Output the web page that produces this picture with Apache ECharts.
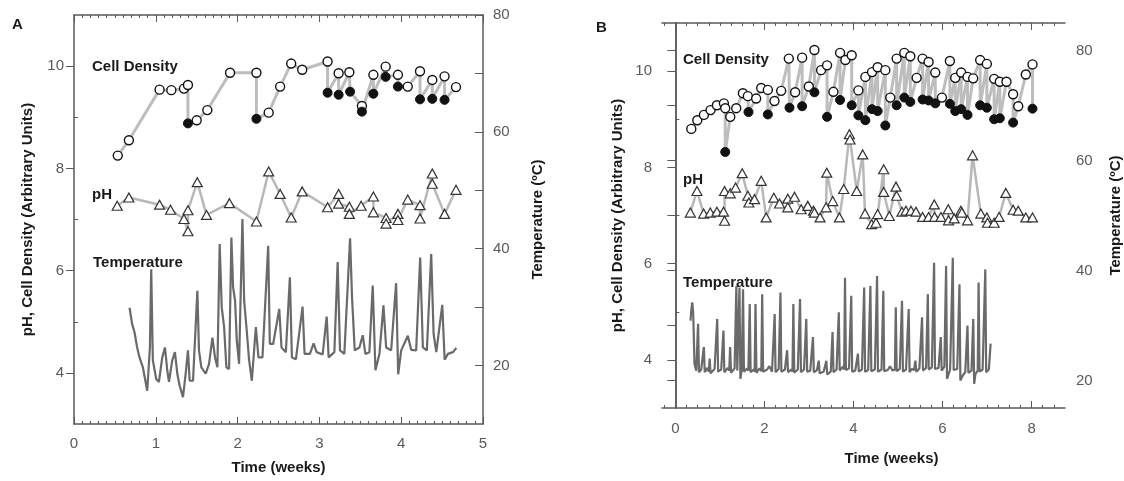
<!DOCTYPE html>
<html>
<head>
<meta charset="utf-8">
<script src="https://cdn.jsdelivr.net/npm/echarts@6/dist/echarts.min.js"></script>
<style>
html,body{margin:0;padding:0;background:#fff;}
#chart{width:1124px;height:481px;}
</style>
</head>
<body>
<div id="chart"></div>
<script>
// ---------- Panel A data ----------
const cellA_t = [0.535,0.671,1.046,1.19,1.344,1.393,1.393,1.50,1.63,1.908,2.23,2.23,2.38,2.52,2.655,2.79,3.10,3.10,3.235,3.235,3.366,3.375,3.52,3.52,3.66,3.66,3.81,3.81,3.96,3.96,4.08,4.23,4.23,4.38,4.38,4.53,4.53,4.67];
const cellA_v = [8.25,8.55,9.54,9.53,9.56,9.63,8.88,8.94,9.14,9.87,9.87,8.97,9.09,9.60,10.05,9.93,10.09,9.48,9.86,9.44,9.88,9.50,9.22,9.11,9.83,9.46,9.99,9.79,9.83,9.60,9.60,9.90,9.35,9.73,9.36,9.80,9.34,9.59];
const cellA_filled = [0,0,0,0,0,0,1,0,0,0,0,1,0,0,0,0,0,1,0,1,0,1,0,1,0,1,0,1,0,1,0,0,1,0,1,0,1,0];

const phA_t = [0.528,0.671,1.046,1.18,1.344,1.393,1.393,1.507,1.62,1.90,2.23,2.38,2.52,2.655,2.79,3.10,3.235,3.235,3.366,3.366,3.51,3.66,3.66,3.815,3.815,3.96,3.96,4.08,4.23,4.23,4.38,4.38,4.53,4.67];
const phA_v = [7.27,7.43,7.29,7.19,7.01,6.77,7.18,7.73,7.09,7.32,6.96,7.94,7.50,7.04,7.55,7.24,7.50,7.31,7.25,7.11,7.27,7.45,7.14,7.03,6.92,7.11,6.99,7.39,7.28,7.02,7.90,7.70,7.11,7.58];

const tempA_t = [0.679,0.711,0.740,0.772,0.801,0.842,0.895,0.928,0.944,0.964,1.005,1.038,1.079,1.112,1.140,1.161,1.201,1.234,1.263,1.291,1.332,1.365,1.393,1.414,1.455,1.508,1.528,1.557,1.610,1.651,1.692,1.724,1.753,1.781,1.806,1.835,1.863,1.896,1.924,1.945,1.969,1.990,2.018,2.059,2.080,2.108,2.141,2.174,2.223,2.255,2.304,2.374,2.394,2.435,2.509,2.537,2.590,2.639,2.664,2.713,2.794,2.819,2.884,2.929,2.966,3.040,3.089,3.113,3.183,3.223,3.252,3.305,3.375,3.399,3.432,3.489,3.530,3.562,3.611,3.652,3.685,3.734,3.783,3.816,3.877,3.938,3.963,4.000,4.081,4.122,4.183,4.232,4.265,4.314,4.367,4.396,4.429,4.502,4.531,4.571,4.633,4.674];
const tempA_v = [29.9,27.1,25.7,23.1,21.4,19.7,15.7,23.1,36.5,20.9,17.7,17.2,21.4,23.1,19.2,17.2,20.9,22.3,18.6,16.6,14.6,18.6,22.6,17.4,17.4,32.8,22.6,19.7,18.6,20.3,24.8,21.4,19.7,40.8,30.0,26.6,19.7,19.4,41.9,33.4,31.1,24.3,20.3,45.1,31.1,26.6,20.9,17.4,26.6,21.4,21.4,40.5,23.7,23.7,29.7,23.1,22.3,35.1,21.4,21.1,30.1,22.0,22.0,23.8,22.3,21.9,28.4,21.4,22.3,37.7,22.6,22.0,41.8,31.7,22.6,23.1,25.2,22.0,22.3,33.7,19.2,22.0,30.3,23.1,22.6,34.1,18.5,22.6,25.1,22.7,22.6,38.5,23.1,22.6,39.1,25.4,22.3,30.4,21.0,22.0,22.3,23.0];

// ---------- Panel B data ----------
const cellB_t = [0.358,0.493,0.642,0.791,0.933,1.090,1.120,1.120,1.233,1.367,1.516,1.628,1.643,1.815,1.928,2.077,2.077,2.226,2.376,2.548,2.563,2.690,2.847,2.847,2.996,3.123,3.123,3.273,3.407,3.407,3.549,3.699,3.699,3.818,3.960,3.960,4.110,4.110,4.267,4.267,4.416,4.416,4.543,4.543,4.715,4.715,4.827,4.969,4.969,5.141,5.141,5.276,5.276,5.418,5.552,5.552,5.687,5.687,5.836,5.836,5.986,6.165,6.165,6.285,6.285,6.419,6.419,6.561,6.561,6.688,6.845,6.845,6.995,6.995,7.159,7.159,7.286,7.286,7.436,7.585,7.585,7.70,7.87,8.02,8.02];
const cellB_v = [8.80,8.98,9.09,9.19,9.29,9.33,9.23,8.32,9.05,9.23,9.54,9.48,9.15,9.43,9.65,9.61,9.10,9.38,9.59,10.26,9.24,9.56,10.28,9.27,9.68,10.44,9.56,10.02,10.12,9.05,9.57,10.38,9.40,10.23,10.33,9.29,9.60,9.08,9.88,8.98,9.98,9.21,10.08,9.17,10.02,8.87,9.45,10.26,9.29,10.38,9.45,10.31,9.36,9.86,10.26,9.41,10.19,9.39,9.97,9.33,9.45,10.21,9.32,9.86,9.17,9.97,9.21,9.88,9.09,9.85,10.23,9.29,10.15,9.24,9.84,9.00,9.78,9.02,9.78,9.52,8.93,9.27,9.93,10.14,9.22];
const cellB_filled = [0,0,0,0,0,0,0,1,0,0,0,0,1,0,0,0,1,0,0,0,1,0,0,1,0,0,1,0,0,1,0,0,1,0,0,1,0,1,0,1,0,1,0,1,0,1,0,0,1,0,1,0,1,0,0,1,0,1,0,1,0,0,1,0,1,0,1,0,1,0,0,1,0,1,0,1,0,1,0,0,1,0,0,0,1];

const phB_t = [0.336,0.485,0.635,0.784,0.933,1.082,1.105,1.105,1.233,1.352,1.501,1.628,1.651,1.778,1.928,2.039,2.211,2.339,2.525,2.525,2.675,2.825,2.974,3.101,3.123,3.25,3.385,3.400,3.534,3.684,3.781,3.908,3.923,4.073,4.207,4.259,4.409,4.506,4.543,4.678,4.678,4.805,4.954,4.969,5.089,5.178,5.291,5.403,5.552,5.687,5.814,5.821,5.964,6.128,6.135,6.262,6.412,6.434,6.561,6.674,6.860,6.995,7.010,7.159,7.271,7.421,7.585,7.70,7.87,8.02];
const phB_v = [7.06,7.51,7.04,7.06,7.08,7.08,6.89,7.51,7.46,7.58,7.88,7.41,7.27,7.34,7.72,6.96,7.37,7.25,7.35,7.17,7.39,7.13,7.20,7.10,7.06,6.96,7.17,7.89,7.30,6.96,7.55,8.69,8.58,7.51,8.27,7.04,6.82,6.85,7.03,7.96,7.49,6.99,7.60,7.41,7.08,7.10,7.10,7.08,6.97,6.97,7.23,6.97,6.97,7.13,6.90,6.94,7.10,7.06,6.90,8.25,7.04,6.96,6.85,6.85,6.97,7.47,7.12,7.10,6.96,6.96];

const tempB_t = [0.34,0.36,0.38,0.40,0.43,0.47,0.49,0.51,0.53,0.58,0.62,0.64,0.66,0.72,0.75,0.77,0.79,0.88,0.92,0.94,0.96,1.03,1.06,1.08,1.10,1.18,1.21,1.23,1.25,1.33,1.35,1.37,1.39,1.42,1.44,1.46,1.49,1.52,1.54,1.61,1.64,1.67,1.69,1.76,1.78,1.80,1.82,1.89,1.93,1.95,1.97,2.06,2.11,2.17,2.20,2.23,2.25,2.32,2.34,2.36,2.38,2.46,2.49,2.51,2.53,2.60,2.63,2.65,2.67,2.75,2.78,2.80,2.82,2.89,2.92,2.94,2.96,3.03,3.07,3.09,3.11,3.18,3.20,3.22,3.24,3.33,3.36,3.39,3.41,3.49,3.51,3.53,3.55,3.62,3.65,3.67,3.69,3.76,3.79,3.81,3.83,3.90,3.93,3.95,3.97,4.04,4.07,4.10,4.12,4.19,4.22,4.24,4.26,4.33,4.36,4.38,4.40,4.48,4.51,4.53,4.55,4.63,4.65,4.67,4.69,4.77,4.82,4.88,4.93,4.95,4.97,5.04,5.07,5.09,5.11,5.18,5.22,5.24,5.26,5.31,5.36,5.39,5.41,5.48,5.52,5.54,5.56,5.63,5.65,5.67,5.69,5.76,5.79,5.81,5.83,5.91,5.94,5.96,5.98,6.04,6.06,6.08,6.10,6.17,6.21,6.23,6.25,6.33,6.36,6.38,6.40,6.46,6.51,6.54,6.56,6.58,6.65,6.67,6.69,6.71,6.74,6.79,6.81,6.83,6.90,6.94,6.96,6.98,7.04,7.08];
const tempB_v = [30.9,33.0,34.2,32.4,23.0,21.8,22.1,30.3,21.5,22.0,21.7,26.1,21.5,22.3,21.6,24.0,21.3,22.1,21.8,31.2,21.6,22.0,21.7,29.1,21.5,22.3,21.8,26.1,21.4,22.2,22.0,37.2,21.8,22.1,36.9,20.3,21.9,36.6,21.6,22.2,21.8,33.9,21.5,22.0,21.6,33.9,21.4,22.2,21.7,35.7,21.6,22.0,22.6,21.6,21.9,32.1,21.5,22.1,21.8,36.0,21.6,22.0,21.7,25.5,21.5,22.0,21.6,33.9,21.4,22.0,21.7,34.8,21.5,22.0,21.8,31.2,21.6,21.8,21.5,27.9,21.5,21.9,21.6,23.6,21.3,21.6,21.4,23.6,21.1,21.6,21.8,28.8,21.5,22.0,21.9,32.4,21.8,22.5,22.0,38.7,21.9,22.2,22.0,35.4,21.6,21.8,21.7,24.9,21.6,22.0,21.8,36.9,21.6,21.9,21.8,37.2,21.7,22.0,21.9,39.0,21.6,22.0,21.8,36.3,21.7,21.9,22.6,21.8,22.0,33.3,21.7,22.1,21.9,34.5,21.6,22.0,21.8,33.0,21.5,22.1,21.9,23.6,21.6,22.2,21.9,31.5,21.8,22.3,22.1,35.7,22.0,22.4,22.2,41.4,22.1,22.3,22.0,27.9,21.8,22.5,22.2,40.8,20.3,22.0,21.8,42.3,21.9,22.1,21.8,37.5,20.0,21.0,21.5,21.7,30.0,21.4,21.8,21.6,31.2,19.4,21.2,21.8,37.8,21.6,22.0,21.8,40.2,21.5,22.0,26.7];

// ---------- Axis tick labels ----------
const xTicksA = [0,1,2,3,4,5];
const xTicksB = [0,2,4,6,8];
const leftTicks = [4,6,8,10];
const leftMinor = [5,7,9];
const rightLabels = [20,40,60,80];
const rightTicks = [20,30,40,50,60,70,80];

// ---------- build ----------
const FONT = '"Liberation Sans", Arial, Helvetica, sans-serif';
const AX = '#5a5a5a';
const zip = (t, v) => t.map((x, i) => [x, v[i]]);
const pick = (t, v, f, want) => t.map((x, i) => [x, v[i], f[i]]).filter(d => d[2] === want).map(d => [d[0], d[1]]);

const xMinorB = [];
for (let k = -1; k <= 35; k++) { const v = k * 0.25; if (v > -0.3 && v < 8.75 && k % 8 !== 0) xMinorB.push(v); }

function axisName(txt, gap, extra) {
  return Object.assign({ name: txt, nameLocation: 'middle', nameGap: gap,
    nameTextStyle: { fontFamily: FONT, fontWeight: 'bold', fontSize: 15, color: '#1a1a1a' } }, extra || {});
}
const lineStyle = { color: AX, width: 1.5 };
const lbl = (margin, extra) => Object.assign({ color: AX, fontSize: 15, fontFamily: FONT, margin: margin }, extra || {});

const option = {
  animation: false,
  backgroundColor: '#fff',
  grid: [
    { left: 74, top: 15, width: 409, height: 409 },
    { left: 662, top: 23, width: 404, height: 385 }
  ],
  xAxis: [
    Object.assign({ gridIndex: 0, type: 'value', min: 0, max: 5, interval: 1, position: 'bottom',
      axisLine: { lineStyle }, axisTick: { inside: true, length: 7, lineStyle: { color: AX } },
      minorTick: { show: true, splitNumber: 10, length: 3, lineStyle: { color: AX } },
      axisLabel: lbl(12, { customValues: xTicksA }), splitLine: { show: false } }, axisName('Time (weeks)', 36)),
    { gridIndex: 0, type: 'value', min: 0, max: 5, interval: 1, position: 'top',
      axisLine: { lineStyle }, axisTick: { inside: true, length: 7, lineStyle: { color: AX } },
      minorTick: { show: true, splitNumber: 10, length: 3, lineStyle: { color: AX } },
      axisLabel: { show: false }, splitLine: { show: false } },
    Object.assign({ gridIndex: 1, type: 'value', min: -0.3, max: 8.75, position: 'bottom',
      axisLine: { lineStyle }, axisTick: { inside: true, length: 7, customValues: xTicksB, lineStyle: { color: AX } },
      axisLabel: lbl(13, { customValues: xTicksB }), splitLine: { show: false } },
      axisName('Time (weeks)', 43, { nameTextStyle: { fontFamily: FONT, fontWeight: 'bold', fontSize: 15, color: '#1a1a1a', padding: [0, 0, 0, 56] } })),
    { gridIndex: 1, type: 'value', min: -0.3, max: 8.75, position: 'top',
      axisLine: { lineStyle }, axisTick: { inside: true, length: 7, customValues: xTicksB, lineStyle: { color: AX } },
      axisLabel: { show: false }, splitLine: { show: false } },
    { gridIndex: 1, type: 'value', min: -0.3, max: 8.75, position: 'bottom',
      axisLine: { show: false }, axisTick: { inside: true, length: 3, customValues: xMinorB, lineStyle: { color: AX } },
      axisLabel: { show: false }, splitLine: { show: false } },
    { gridIndex: 1, type: 'value', min: -0.3, max: 8.75, position: 'top',
      axisLine: { show: false }, axisTick: { inside: true, length: 3, customValues: xMinorB, lineStyle: { color: AX } },
      axisLabel: { show: false }, splitLine: { show: false } }
  ],
  yAxis: [
    Object.assign({ gridIndex: 0, type: 'value', min: 3, max: 11, position: 'left',
      axisLine: { show: true, lineStyle }, axisTick: { show: true, inside: false, length: 8, customValues: leftTicks, lineStyle: { color: AX } },
      axisLabel: lbl(10, { customValues: leftTicks }), splitLine: { show: false } }, axisName('pH, Cell Density (Arbitrary Units)', 39)),
    { gridIndex: 0, type: 'value', min: 3, max: 11, position: 'left',
      axisLine: { show: false }, axisTick: { show: true, inside: true, length: 4, customValues: leftMinor, lineStyle: { color: AX } },
      axisLabel: { show: false }, splitLine: { show: false } },
    Object.assign({ gridIndex: 0, type: 'value', min: 10, max: 80, position: 'right',
      axisLine: { show: true, lineStyle }, axisTick: { show: true, inside: true, length: 8, customValues: rightTicks, lineStyle: { color: AX } },
      axisLabel: lbl(10, { customValues: rightLabels }), splitLine: { show: false } }, axisName('Temperature (ºC)', 47, { nameRotate: 90 })),
    Object.assign({ gridIndex: 1, type: 'value', min: 3, max: 11, position: 'left',
      axisLine: { show: true, lineStyle }, axisTick: { show: true, inside: false, length: 8, customValues: leftTicks, lineStyle: { color: AX } },
      axisLabel: lbl(10, { customValues: leftTicks }), splitLine: { show: false } }, axisName('pH, Cell Density (Arbitrary Units)', 37)),
    { gridIndex: 1, type: 'value', min: 3, max: 11, position: 'left',
      axisLine: { show: false }, axisTick: { show: true, inside: true, length: 4, customValues: leftMinor, lineStyle: { color: AX } },
      axisLabel: { show: false }, splitLine: { show: false } },
    Object.assign({ gridIndex: 1, type: 'value', min: 15, max: 85, position: 'right',
      axisLine: { show: true, lineStyle }, axisTick: { show: true, inside: true, length: 8, customValues: rightTicks, lineStyle: { color: AX } },
      axisLabel: lbl(11, { customValues: rightLabels }), splitLine: { show: false } }, axisName('Temperature (ºC)', 43, { nameRotate: 90 }))
  ],
  series: [],
  graphic: []
};

function panel(xi, yL, yR, cellT, cellV, cellF, phT, phV, tT, tV) {
  const s = option.series;
  s.push({ type: 'line', xAxisIndex: xi, yAxisIndex: yR, data: zip(tT, tV), symbol: 'none', z: 2,
    lineStyle: { color: '#6a6a6a', width: 2.2 } });
  s.push({ type: 'line', xAxisIndex: xi, yAxisIndex: yL, data: zip(phT, phV), symbol: 'triangle', symbolSize: [10, 9], showAllSymbol: true, z: 3,
    lineStyle: { color: '#b8b8b8', width: 2.5 }, itemStyle: { color: '#fff', borderColor: '#333', borderWidth: 1.2 } });
  s.push({ type: 'line', xAxisIndex: xi, yAxisIndex: yL, data: zip(cellT, cellV), symbol: 'none', z: 3,
    lineStyle: { color: '#bdbdbd', width: 3 } });
  s.push({ type: 'scatter', xAxisIndex: xi, yAxisIndex: yL, data: pick(cellT, cellV, cellF, 0), symbol: 'circle', symbolSize: 9, z: 4,
    itemStyle: { color: '#fff', borderColor: '#111', borderWidth: 1.4, opacity: 1 } });
  s.push({ type: 'scatter', xAxisIndex: xi, yAxisIndex: yL, data: pick(cellT, cellV, cellF, 1), symbol: 'circle', symbolSize: 9, z: 5,
    itemStyle: { color: '#111', borderColor: '#111', borderWidth: 1, opacity: 1 } });
}
panel(0, 0, 2, cellA_t, cellA_v, cellA_filled, phA_t, phA_v, tempA_t, tempA_v);
panel(2, 3, 5, cellB_t, cellB_v, cellB_filled, phB_t, phB_v, tempB_t, tempB_v);

function txt(x, y, t, size) {
  option.graphic.push({ type: 'text', x: x, y: y, z: 10,
    style: { text: t, font: 'bold ' + (size || 15) + 'px ' + FONT, fill: '#1a1a1a', textVerticalAlign: 'middle', textAlign: 'left' } });
}
txt(12, 25, 'A', 15);
txt(596, 28, 'B', 15);
txt(92, 67, 'Cell Density', 15);
txt(92, 195, 'pH', 15);
txt(93, 263, 'Temperature', 15);
txt(683, 60, 'Cell Density', 15);
txt(683, 180, 'pH', 15);
txt(683, 283, 'Temperature', 15);

const chart = echarts.init(document.getElementById('chart'), null, { renderer: 'canvas' });
chart.setOption(option);
</script>
</body>
</html>
